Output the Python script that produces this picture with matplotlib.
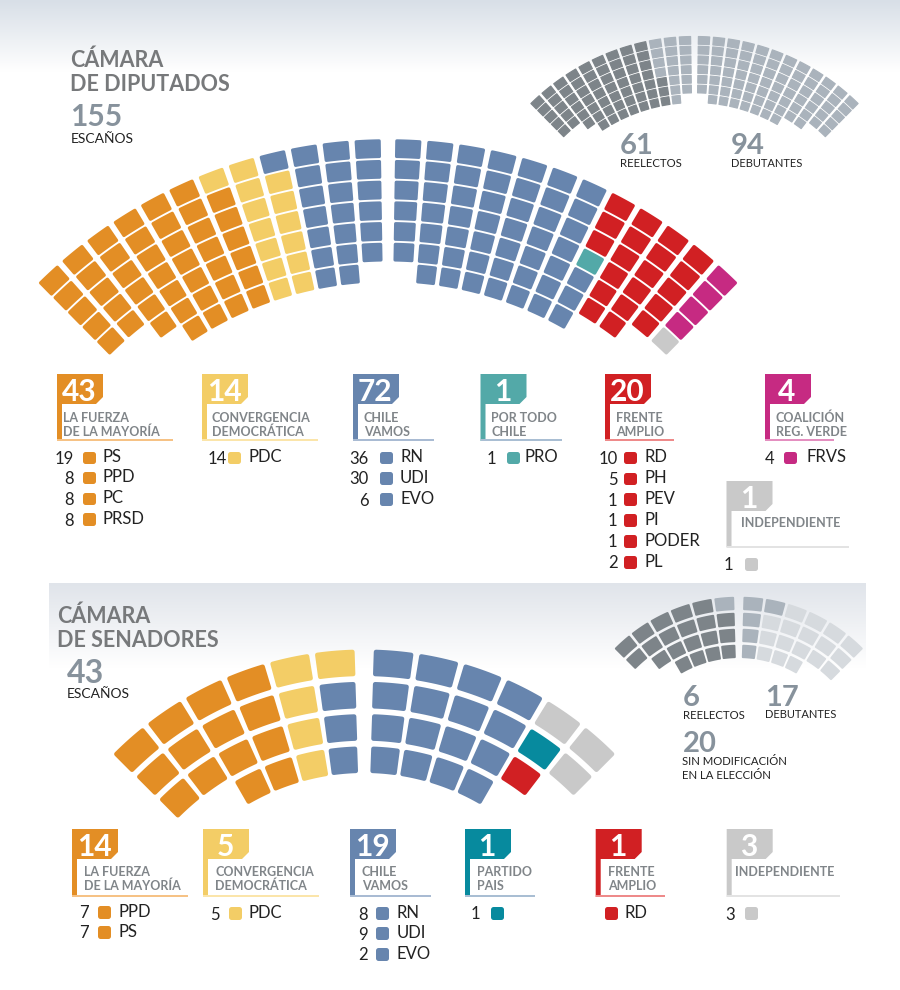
import numpy as np
import matplotlib
matplotlib.use('Agg')
import matplotlib.pyplot as plt
from matplotlib.patches import Polygon, Rectangle
from matplotlib.colors import LinearSegmentedColormap

plt.rcParams['font.family'] = ['Lato', 'DejaVu Sans']

# colours
ORANGE = '#E38E25'
YELLOW = '#F3CD66'
BLUE = '#6785AE'
TEAL = '#53A9A8'
TEAL2 = '#078A9E'
RED = '#D12023'
MAGENTA = '#C62A82'
GRAY = '#C9C9C9'
DARK = '#7D8489'
MID = '#AAB3BC'
LIGHT = '#D6DADE'

# diputados
dip_totals = [43, 14, 72, 1, 20, 4, 1]
dip_labels = ['LA FUERZA\nDE LA MAYORÍA', 'CONVERGENCIA\nDEMOCRÁTICA', 'CHILE\nVAMOS',
              'POR TODO\nCHILE', 'FRENTE\nAMPLIO', 'COALICIÓN\nREG. VERDE', 'INDEPENDIENTE']
dip_party_names = [['PS', 'PPD', 'PC', 'PRSD'], ['PDC'], ['RN', 'UDI', 'EVO'], ['PRO'],
                   ['RD', 'PH', 'PEV', 'PI', 'PODER', 'PL'], ['FRVS'], ['']]
dip_party_seats = [[19, 8, 8, 8], [14], [36, 30, 6], [1], [10, 5, 1, 1, 1, 2], [4], [1]]
dip_cols_left = [6, 7, 7, 7, 7, 7, 7, 7, 7, 6, 5, 5]
dip_cols_right = [6, 7, 7, 7, 7, 7, 7, 7, 6, 6, 5, 5]
# seat order around the chamber, left to right
dip_seat_blocks = [43, 14, 72, 1, 20, 1, 4]
dip_renewal = [61, 94]

# senadores
sen_totals = [14, 5, 19, 1, 1, 3]
sen_labels = ['LA FUERZA\nDE LA MAYORÍA', 'CONVERGENCIA\nDEMOCRÁTICA', 'CHILE\nVAMOS',
              'PARTIDO\nPAIS', 'FRENTE\nAMPLIO', 'INDEPENDIENTE']
sen_party_names = [['PPD', 'PS'], ['PDC'], ['RN', 'UDI', 'EVO'], [''], ['RD'], ['']]
sen_party_seats = [[7, 7], [5], [8, 9, 2], [1], [None], [3]]
sen_cols_left = [4, 4, 4, 4, 3, 3]
sen_cols_right = [4, 4, 4, 4, 3, 2]
sen_seat_blocks = [14, 5, 19, 1, 1, 3]
sen_mini_cols_left = [4, 4, 4, 4, 3, 2]
sen_mini_cols_right = [4, 4, 4, 4, 3, 3]
sen_renewal = [20, 6, 17]

PX = 0.72  # points per pixel at dpi 100


def seat(ax, cx, cy, r, th, w, h, color, rc):
    # annular sector with rounded corners, rounding comes from the round-joined edge
    r0, r1 = r - h / 2 + rc, r + h / 2 - rc
    a0 = th - w / 2 + np.degrees(rc / r)
    a1 = th + w / 2 - np.degrees(rc / r)
    t = np.radians(np.linspace(a0, a1, 8))
    rr = np.r_[np.full(8, r1), np.full(8, r0)]
    tt = np.r_[t, t[::-1]]
    ax.add_patch(Polygon(np.c_[cx + rr * np.sin(tt), cy - rr * np.cos(tt)], closed=True,
                         fc=color, ec=color, lw=2 * rc * PX, joinstyle='round'))


def chamber(ax, cx, cy, R, pitch, th0, dth, w, h, left, right, blocks, colors, rc=1.6,
            outer_first=()):
    # columns fill from the left end to the right end, inner seat first unless listed
    seat_colors = [c for n, c in zip(blocks, colors) for _ in range(n)]
    k = 0
    for col in range(len(left) - 1, -1, -1):
        rows = range(left[col]) if ('L', col) in outer_first else range(left[col] - 1, -1, -1)
        for row in rows:
            seat(ax, cx, cy, R - row * pitch, -(th0 + col * dth), w, h, seat_colors[k], rc)
            k += 1
    for col in range(len(right)):
        rows = range(right[col]) if ('R', col) in outer_first else range(right[col] - 1, -1, -1)
        for row in rows:
            seat(ax, cx, cy, R - row * pitch, th0 + col * dth, w, h, seat_colors[k], rc)
            k += 1


def txt(ax, x, yc, s, size, color='#222222', weight='normal', ha='left'):
    ax.text(x, yc + 0.5 * size, s, fontsize=size, color=color, fontweight=weight,
            ha=ha, va='baseline')


def flag(ax, x, top, bottom, line_end, color, line_color, total, label, label_x, label_y,
         label_gap=14.5):
    ax.plot([x, line_end], [bottom - 1, bottom - 1], color=line_color, lw=2 * PX,
            solid_capstyle='butt')
    pts = [(x, top), (x + 46, top), (x + 46, top + 23), (x + 39, top + 30), (x + 5, top + 30),
           (x + 5, bottom), (x, bottom)]
    ax.add_patch(Polygon(pts, closed=True, fc=color, ec='none'))
    txt(ax, x + 22, top + 16, str(total), 21.5, color='white', weight='bold', ha='center')
    for i, line in enumerate(label.split('\n')):
        txt(ax, label_x, label_y + i * label_gap, line, 9, color='#808589', weight='bold')


def party_rows(ax, names, seats, ys, num_x, sq_x, name_x, color):
    for name, n, y in zip(names, seats, ys):
        if n is not None:
            txt(ax, num_x, y + 0.5, str(n), 12, ha='right')
        ax.add_patch(Rectangle((sq_x - 3.8, y - 3.8), 7.6, 7.6, fc=color, ec=color, lw=5 * PX,
                               joinstyle='round'))
        if name:
            txt(ax, name_x, y - 1, name, 12)


def gradient(ax, x0, x1, y0, y1, top_color):
    cmap = LinearSegmentedColormap.from_list('g', [top_color, '#FFFFFF'])
    ax.imshow(np.linspace(0, 1, 128).reshape(-1, 1), extent=(x0, x1, y1, y0), cmap=cmap,
              aspect='auto', zorder=0, interpolation='bilinear')


fig = plt.figure(figsize=(9, 9.9), dpi=100)
ax = fig.add_axes([0, 0, 1, 1])

gradient(ax, 0, 900, 0, 72, '#D8DFE7')
gradient(ax, 49, 866, 583, 668, '#E0E4EA')

ax.set_xlim(0, 900)
ax.set_ylim(990, 0)
ax.axis('off')

# ---- diputados header
txt(ax, 70, 59, 'CÁMARA', 15.5, color='#77797B', weight='bold')
txt(ax, 70, 83, 'DE DIPUTADOS', 15.5, color='#77797B', weight='bold')
txt(ax, 70, 115.5, '155', 21.5, color='#87929C', weight='bold')
txt(ax, 70.5, 138, 'ESCAÑOS', 10)

# big chamber
chamber(ax, 388, 636.6, 488, 20.7, 2.35, 3.71, 3.03, 18.8, dip_cols_left, dip_cols_right,
        dip_seat_blocks, [ORANGE, YELLOW, BLUE, TEAL, RED, GRAY, MAGENTA], rc=1.5)

# small chamber
chamber(ax, 694.5, 269.7, 488 * 0.47, 20.7 * 0.47, 2.35, 3.71, 3.08, 8.9,
        dip_cols_left, dip_cols_right, [dip_renewal[0], dip_renewal[1]], [DARK, MID], rc=0.6)
txt(ax, 620, 143, str(dip_renewal[0]), 21, color='#87929C', weight='bold')
txt(ax, 620, 163.3, 'REELECTOS', 8.2)
txt(ax, 731, 143, str(dip_renewal[1]), 21, color='#87929C', weight='bold')
txt(ax, 731, 163.3, 'DEBUTANTES', 8)

# diputados flags
dip_flag_x = [57, 202, 353, 480.5, 605, 765, 726.5]
dip_flag_top = [374, 374, 374, 374, 374, 374, 481]
dip_flag_bottom = [441, 441, 441, 441, 441, 441, 547.5]
dip_line_end = [173, 318, 434, 562, 674, 834, 849]
dip_flag_col = [ORANGE, YELLOW, BLUE, TEAL, RED, MAGENTA, GRAY]
dip_line_col = ['#F6C285', '#FBE5AA', '#A9BBD3', '#A9BED3', '#EE8A8A', '#E48FC0', '#E3E3E3']
dip_label_x = [63, 212, 364, 491, 615.7, 775.7, 740.7]
dip_label_y = [417, 417, 417.5, 417.5, 417.5, 417.5, 522.7]
for i in range(7):
    flag(ax, dip_flag_x[i], dip_flag_top[i], dip_flag_bottom[i], dip_line_end[i],
         dip_flag_col[i], dip_line_col[i], dip_totals[i], dip_labels[i], dip_label_x[i],
         dip_label_y[i])

dip_row_y = [[457.3, 477.3, 498.3, 519], [457.3], [457.3, 478, 499], [457.3],
             [457.3, 478.3, 499, 520, 540.7, 561.7], [457.3], [564]]
dip_num_x = [74, 226.7, 369, 496, 617.7, 774, 733]
dip_sq_x = [89, 234, 385.7, 512.7, 630, 790, 751]
dip_name_x = [103, 248, 400, 525, 644, 807, 760]
for i in range(7):
    party_rows(ax, dip_party_names[i], dip_party_seats[i], dip_row_y[i], dip_num_x[i],
               dip_sq_x[i], dip_name_x[i], dip_flag_col[i])

# ---- senadores header
txt(ax, 57, 615, 'CÁMARA', 15.5, color='#77797B', weight='bold')
txt(ax, 57, 639, 'DE SENADORES', 15.5, color='#77797B', weight='bold')
txt(ax, 66.5, 671.7, '43', 23, color='#87929C', weight='bold')
txt(ax, 66.5, 692.7, 'ESCAÑOS', 10)

chamber(ax, 364.2, 1003, 340.2, 32.3, 4.8, 7.44, 6.5, 26.6, sen_cols_left, sen_cols_right,
        sen_seat_blocks, [ORANGE, YELLOW, BLUE, RED, TEAL2, GRAY], rc=2.2,
        outer_first={('L', 0)})

chamber(ax, 738.8, 771.8, 340.2 * 0.495, 32.3 * 0.495, 4.8, 7.44, 6.55, 13.4,
        sen_mini_cols_left, sen_mini_cols_right, [sen_renewal[0], sen_renewal[1], sen_renewal[2]],
        [DARK, MID, LIGHT], rc=1.0, outer_first={('R', 1)})

txt(ax, 682.5, 695, str(sen_renewal[1]), 21, color='#87929C', weight='bold')
txt(ax, 682.5, 714.5, 'REELECTOS', 8.2)
txt(ax, 765, 695, str(sen_renewal[2]), 21, color='#87929C', weight='bold')
txt(ax, 765, 714.5, 'DEBUTANTES', 8)
txt(ax, 682.5, 741, str(sen_renewal[0]), 21, color='#87929C', weight='bold')
txt(ax, 682.5, 761, 'SIN MODIFICACIÓN', 8.2)
txt(ax, 682.5, 775, 'EN LA ELECCIÓN', 8.2)

# senadores flags
sen_flag_x = [72, 203, 350, 465, 595.7, 726.7]
sen_line_end = [188, 319, 431, 535, 665, 840]
sen_flag_col = [ORANGE, YELLOW, BLUE, TEAL2, RED, GRAY]
sen_line_col = ['#F6C285', '#FBE5AA', '#A9BBD3', '#A9BED3', '#EE8A8A', '#E3E3E3']
sen_label_x = [84, 215, 362, 477, 607.7, 735]
for i in range(6):
    flag(ax, sen_flag_x[i], 829, 897, sen_line_end[i], sen_flag_col[i], sen_line_col[i],
         sen_totals[i], sen_labels[i], sen_label_x[i], 872, label_gap=14)

sen_row_y = [[911.7, 932], [913], [913, 933, 954], [912.7], [913], [913]]
sen_num_x = [89, 220, 368, 480, 600, 735]
sen_sq_x = [104, 235, 382, 496.7, 610.7, 751]
sen_name_x = [118.7, 249, 396.7, 510, 625, 765]
for i in range(6):
    party_rows(ax, sen_party_names[i], sen_party_seats[i], sen_row_y[i], sen_num_x[i],
               sen_sq_x[i], sen_name_x[i], sen_flag_col[i])

fig.savefig('out.png', dpi=100)
